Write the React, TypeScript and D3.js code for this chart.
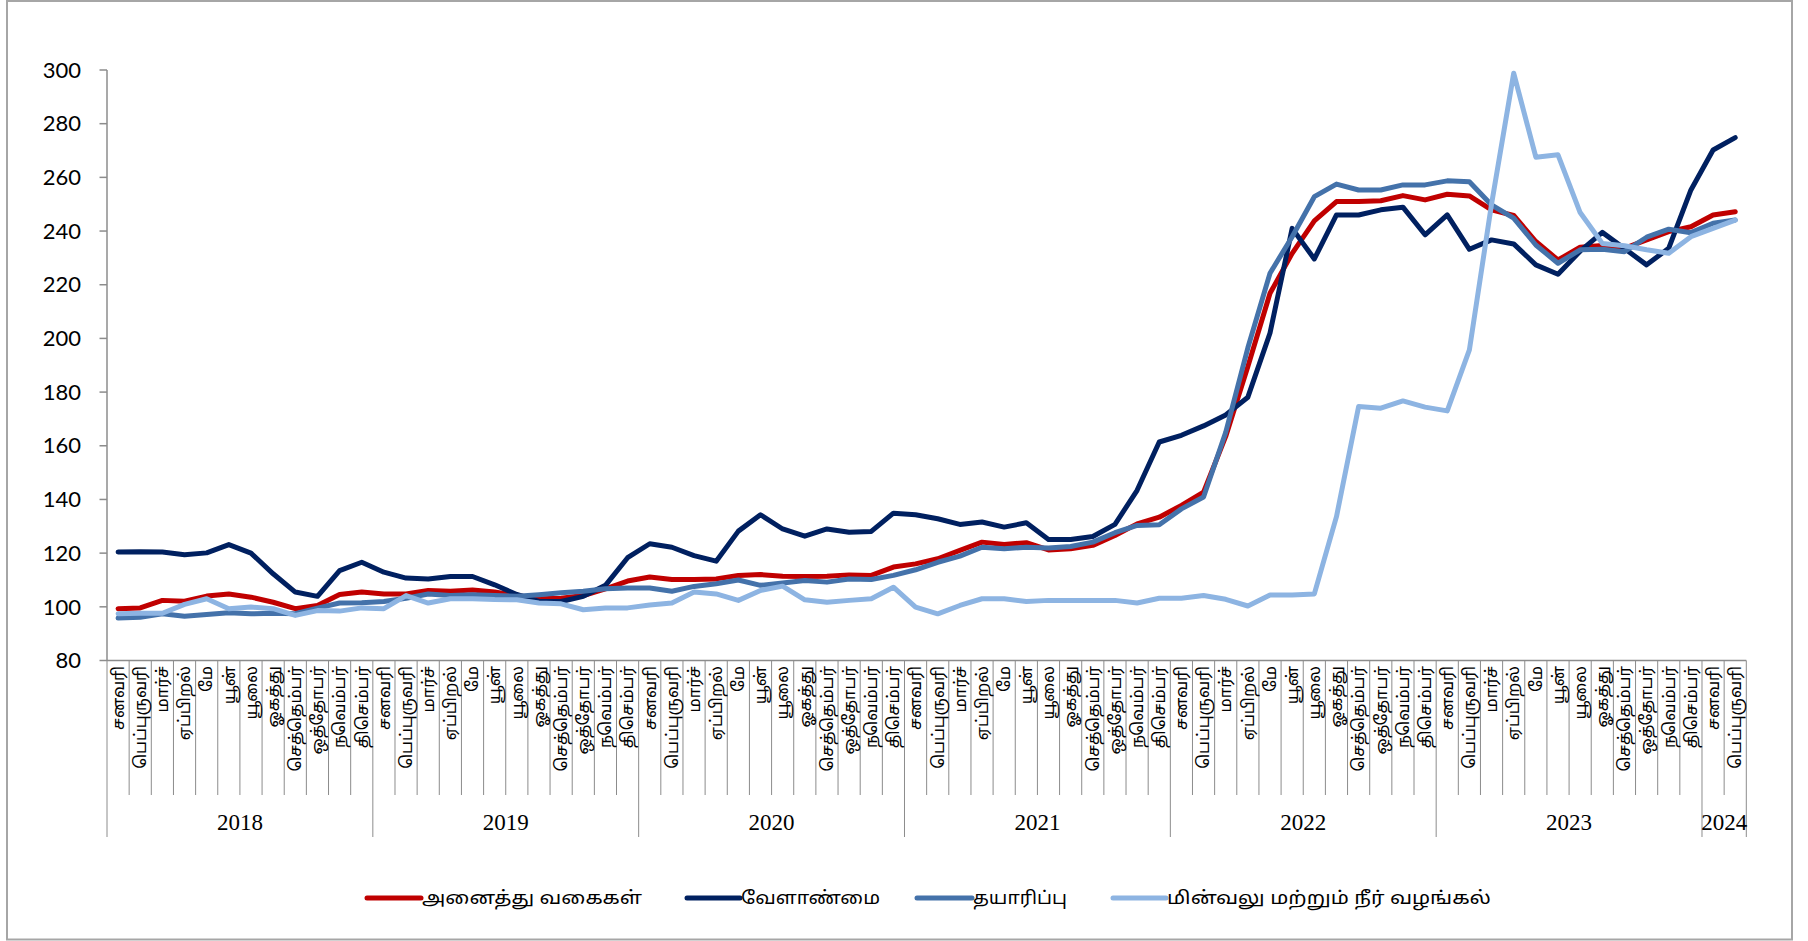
import React from "react";
import * as d3 from "d3";

const years = ["2018", "2019", "2020", "2021", "2022", "2023", "2024"];
const monthNames = ["சனவரி", "பெப்புருவரி", "மார்ச்", "ஏப்பிறல்", "மே", "யூன்", "யூலை", "ஓகத்து", "செத்தெம்பர்", "ஒத்தோபர்", "நவெம்பர்", "திசெம்பர்"];
const monthsInYear = [12, 12, 12, 12, 12, 12, 2];

const allCategories = [
  99.3, 99.6, 102.4, 102.1, 104.0, 104.8, 103.6, 101.7, 99.3, 100.5, 104.6, 105.5,
  104.8, 104.8, 106.1, 105.8, 106.3, 105.5, 104.2, 103.0, 103.2, 104.2, 106.7, 109.6,
  111.1, 110.2, 110.2, 110.4, 111.7, 112.0, 111.4, 111.3, 111.4, 111.9, 111.7, 114.8,
  116.0, 117.9, 121.0, 124.1, 123.2, 123.9, 121.2, 121.6, 122.9, 126.6, 130.9, 133.4,
  137.8, 142.7, 163.5, 189.5, 216.8, 231.7, 243.8, 251.0, 251.0, 251.3, 253.2, 251.6,
  253.7, 253.1, 247.9, 245.8, 236.1, 229.2, 234.0, 234.6, 233.6, 236.7, 239.8, 241.6,
  246.0, 247.2,
];
const agriculture = [
  120.4, 120.5, 120.4, 119.4, 120.1, 123.2, 120.0, 112.3, 105.5, 103.9, 113.5, 116.6,
  112.9, 110.7, 110.4, 111.3, 111.3, 108.2, 104.6, 102.0, 102.0, 103.9, 108.0, 118.3,
  123.5, 122.2, 119.1, 117.0, 128.2, 134.3, 129.0, 126.3, 129.0, 127.8, 128.1, 134.9,
  134.3, 132.8, 130.7, 131.6, 129.7, 131.3, 125.1, 125.1, 126.2, 130.7, 143.4, 161.4,
  163.9, 167.4, 171.5, 178.1, 202.0, 241.0, 229.6, 246.0, 246.0, 247.9, 248.9, 238.6,
  246.0, 233.2, 236.7, 235.2, 227.4, 223.9, 232.5, 239.5, 233.5, 227.4, 233.6, 255.3,
  270.2, 274.8,
];
const manufacturing = [
  95.8, 96.1, 97.4, 96.5, 97.1, 97.8, 97.4, 97.6, 97.4, 99.5, 101.4, 101.5,
  102.0, 103.2, 104.8, 104.2, 104.5, 104.2, 103.9, 104.5, 105.2, 105.8, 106.7, 107.0,
  107.0, 105.8, 107.6, 108.6, 110.0, 108.0, 108.9, 109.8, 109.2, 110.4, 110.2, 111.7,
  113.8, 116.6, 118.9, 122.2, 121.6, 122.2, 121.9, 122.5, 124.1, 127.6, 130.3, 130.6,
  136.5, 140.9, 165.0, 196.5, 224.3, 237.9, 252.8, 257.5, 255.3, 255.3, 257.2, 257.2,
  258.7, 258.4, 249.7, 244.8, 234.8, 228.0, 233.0, 233.2, 232.3, 237.7, 240.7, 239.4,
  242.9, 244.1,
];
const electricity = [
  97.4, 97.6, 97.6, 100.9, 103.0, 99.3, 99.9, 99.3, 96.8, 98.6, 98.4, 99.6,
  99.3, 104.2, 101.4, 103.0, 103.0, 102.7, 102.6, 101.4, 101.1, 98.9, 99.6, 99.6,
  100.7, 101.4, 105.5, 104.8, 102.4, 106.1, 107.7, 102.6, 101.7, 102.4, 103.0, 107.3,
  99.9, 97.4, 100.5, 103.0, 103.0, 102.0, 102.4, 102.4, 102.4, 102.4, 101.4, 103.2,
  103.2, 104.2, 102.8, 100.3, 104.4, 104.4, 104.8, 133.6, 174.6, 174.0, 176.7, 174.4,
  173.0, 195.7, 250.0, 298.8, 267.5, 268.4, 246.9, 235.4, 234.5, 233.0, 231.7, 237.9,
  241.0, 244.1,
];
const seriesNames = ["அனைத்து வகைகள்", "வேளாண்மை", "தயாரிப்பு", "மின்வலு மற்றும் நீர் வழங்கல்"];
const seriesColors = ["#C00000", "#002060", "#4472AA", "#8DB4E2"];
const yTicks = [80, 100, 120, 140, 160, 180, 200, 220, 240, 260, 280, 300];

const W = 1808;
const H = 941;

export default function App() {
  const categories: { year: string; month: string; key: string }[] = [];
  years.forEach((yr, yi) => {
    for (let m = 0; m < monthsInYear[yi]; m++) {
      categories.push({ year: yr, month: monthNames[m], key: `${yr}-${m}` });
    }
  });
  const x = d3.scaleBand<string>().domain(categories.map((c) => c.key)).range([107, 1746.3]).padding(0);
  const y = d3.scaleLinear().domain([80, 300]).range([660.5, 70]);
  const bw = x.bandwidth();
  const cx = (i: number) => (x(categories[i].key) as number) + bw / 2;
  const line = d3
    .line<number>()
    .x((_, i) => cx(i))
    .y((d) => y(d));
  const series = [allCategories, agriculture, manufacturing, electricity];

  const axisColor = "#8C8C8C";
  const x0 = x.range()[0];
  const x1 = x.range()[1];

  const yearStarts: number[] = [];
  let acc = 0;
  monthsInYear.forEach((n) => {
    yearStarts.push(acc);
    acc += n;
  });

  const legendLines = [
    [367, 421, 422, 220],
    [687, 740, 741, 139],
    [917, 972, 973, 94],
    [1113, 1166, 1167, 324],
  ];

  return (
    <svg width={W} height={H} style={{ position: "absolute", left: 0, top: 0, background: "#fff" }}>
      <rect x={7} y={1} width={1785} height={938.5} fill="#fff" stroke="#A6A6A6" strokeWidth={2} />
      <line x1={x0} x2={x0} y1={y(300)} y2={y(80)} stroke={axisColor} strokeWidth={1.5} />
      {yTicks.map((t) => (
        <g key={t}>
          <line x1={x0 - 7.5} x2={x0} y1={y(t)} y2={y(t)} stroke={axisColor} strokeWidth={1.5} />
          <text
            x={81}
            y={y(t)}
            dy="0.35em"
            textAnchor="end"
            fontFamily="Lato, 'Open Sans', sans-serif"
            fontSize={22}
            fill="#000"
          >
            {t}
          </text>
        </g>
      ))}
      <line x1={x0} x2={x1} y1={y(80)} y2={y(80)} stroke={axisColor} strokeWidth={1.5} />
      {categories.map((c, i) => {
        const bx = x(c.key) as number;
        const isYearStart = yearStarts.includes(i);
        return (
          <line
            key={"sep" + i}
            x1={bx}
            x2={bx}
            y1={y(80)}
            y2={isYearStart ? 837 : 795}
            stroke={axisColor}
            strokeWidth={1}
          />
        );
      })}
      <line x1={x1} x2={x1} y1={y(80)} y2={837} stroke={axisColor} strokeWidth={1} />
      {categories.map((c, i) => (
        <text
          key={"m" + i}
          transform={`translate(${cx(i)},${666}) rotate(-90)`}
          dy="0.35em"
          textAnchor="end"
          fontFamily="'Noto Sans Tamil', 'Latha', 'Noto Sans', sans-serif"
          fontSize={16.5}
          fill="#000"
        >
          {c.month}
        </text>
      ))}
      {years.map((yr, yi) => {
        const s = yearStarts[yi];
        const e = s + monthsInYear[yi] - 1;
        const mid = ((x(categories[s].key) as number) + (x(categories[e].key) as number) + bw) / 2;
        return (
          <text
            key={yr}
            x={mid}
            y={822}
            dy="0.35em"
            textAnchor="middle"
            fontFamily="'Liberation Serif', 'Times New Roman', serif"
            fontSize={23}
            fill="#000"
          >
            {yr}
          </text>
        );
      })}
      {series.map((s, k) => (
        <path
          key={"s" + k}
          d={line(s) as string}
          fill="none"
          stroke={seriesColors[k]}
          strokeWidth={5}
          strokeLinejoin="round"
          strokeLinecap="round"
        />
      ))}
      {seriesNames.map((n, k) => (
        <g key={"lg" + k}>
          <line
            x1={legendLines[k][0]}
            x2={legendLines[k][1]}
            y1={898}
            y2={898}
            stroke={seriesColors[k]}
            strokeWidth={5}
            strokeLinecap="round"
          />
          <text
            x={legendLines[k][2]}
            y={898}
            dy="0.35em"
            fontFamily="'Noto Sans Tamil', 'Latha', 'Noto Sans', sans-serif"
            fontSize={18}
            fill="#000"
            textLength={legendLines[k][3]}
            lengthAdjust="spacingAndGlyphs"
          >
            {n}
          </text>
        </g>
      ))}
    </svg>
  );
}
